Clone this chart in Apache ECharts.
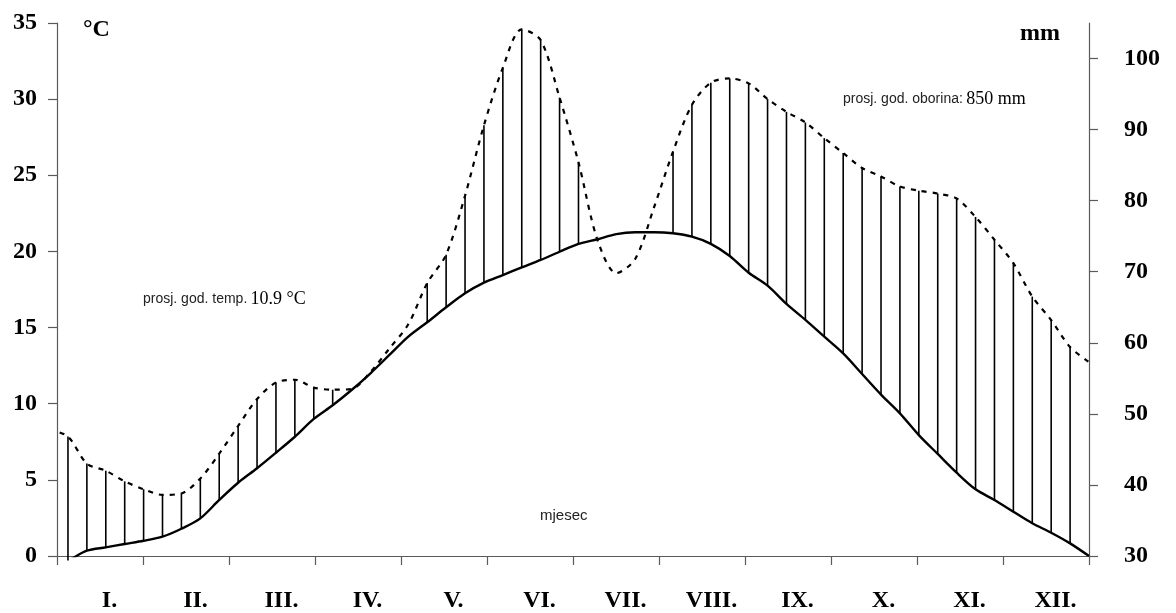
<!DOCTYPE html>
<html><head><meta charset="utf-8">
<script src="https://cdn.jsdelivr.net/npm/echarts@6/dist/echarts.min.js"></script>
<style>html,body{margin:0;padding:0;background:#fff}#c{width:1176px;height:613px}</style>
</head><body><div id="c"></div>
<script>
// ---- data ----
const monthLabels = ['I.','II.','III.','IV.','V.','VI.','VII.','VIII.','IX.','X.','XI.','XII.'];
const tempTicks = [0,5,10,15,20,25,30,35];
const precipTicks = [30,40,50,60,70,80,90,100];
const firstSample = -1; // sample index of first value
// mean temperature (°C) at regular samples through the year
const temperature = [-0.7,-0.3,0.35,0.57,0.79,1.0,1.27,1.79,2.47,3.68,4.81,5.76,6.78,7.83,9.0,9.9,10.9,12.0,13.2,14.4,
  15.35,16.33,17.25,17.95,18.45,18.95,19.44,19.98,20.49,20.8,21.14,21.26,21.26,21.19,20.97,20.5,19.7,18.6,17.75,16.55,
  15.5,14.4,13.3,11.95,10.6,9.37,7.94,6.7,5.47,4.38,3.68,2.91,2.15,1.53,0.83,0];
// precipitation (mm) at the same samples
const precipitation = [47.8,46.8,43.0,42.0,40.5,39.4,38.6,38.8,40.9,44.4,48.3,52.1,54.4,54.8,53.7,53.4,53.5,55.9,59.2,62.6,
  68.4,72.4,80.7,90.6,98.7,104.1,102.6,94.5,85.4,74.5,69.8,71.8,79.1,86.9,93.5,96.6,97.2,96.5,94.3,92.5,
  91.0,88.8,86.7,84.6,83.4,82.0,81.4,81.0,80.3,77.7,74.5,71.2,66.5,63.2,59.4,57.3];
const meanTemp = '10.9 °C';
const meanPrecip = '850 mm';

// ---- axis ranges ----
const X_MIN = -0.58, X_MAX = 54;
const T_MIN = 0, T_MAX = 35, P_MIN = 30, P_MAX = 105;
const tempToMm = t => P_MIN + (t - T_MIN) * (P_MAX - P_MIN) / (T_MAX - T_MIN);

const tempData = temperature.map((v, i) => [i + firstSample, v]);
const precipData = precipitation.map((v, i) => [i + firstSample, v]);
const MIN_GAP = 1.1; // mm
const wet = precipitation.map((p, i) => p - tempToMm(temperature[i]) > MIN_GAP);
const hatchData = [];
precipitation.forEach((p, i) => {
  const k = i + firstSample;
  if (k >= 0 && k < X_MAX && wet[i] && i > 0 && wet[i - 1]) hatchData.push([k, p, tempToMm(temperature[i])]);
});
const monthBounds = monthLabels.map((_, m) => X_MIN + m * (X_MAX - X_MIN) / 12).concat([X_MAX]);

const SERIF = '"Liberation Serif","Times New Roman",serif';
const SANS = '"Liberation Sans",Arial,sans-serif';
const axisCol = '#5a5a5a';
const boldLbl = {fontFamily: SERIF, fontWeight: 'bold', fontSize: 24, color: '#000'};

const chart = echarts.init(document.getElementById('c'), null, {renderer: 'canvas'});
chart.setOption({
  animation: false,
  backgroundColor: '#fff',
  grid: {left: 57, right: 87, top: 23, bottom: 57, containLabel: false, outerBoundsMode: 'none'},
  xAxis: [
    {type: 'value', position: 'bottom', min: X_MIN, max: X_MAX,
     axisLine: {show: true, onZero: false, lineStyle: {color: axisCol, width: 1.2}},
     axisTick: {show: true, customValues: monthBounds, length: 9, lineStyle: {color: axisCol, width: 1.2}},
     axisLabel: {show: false}, splitLine: {show: false}},
    {type: 'category', position: 'bottom', data: monthLabels, boundaryGap: true,
     axisLine: {show: false, onZero: false}, axisTick: {show: false}, splitLine: {show: false},
     axisLabel: Object.assign({interval: 0, margin: 33, padding: [0, 0, 0, 19]}, boldLbl)}
  ],
  yAxis: [
    {type: 'value', position: 'left', min: T_MIN, max: T_MAX, interval: 5,
     axisLine: {show: true, onZero: false, lineStyle: {color: axisCol, width: 1.2}},
     axisTick: {show: true, length: 9, lineStyle: {color: axisCol, width: 1.2}},
     axisLabel: Object.assign({margin: 20}, boldLbl), splitLine: {show: false}},
    {type: 'value', position: 'right', min: P_MIN, max: P_MAX,
     axisLine: {show: true, onZero: false, lineStyle: {color: axisCol, width: 1.2}},
     axisTick: {show: true, length: 9, customValues: precipTicks, lineStyle: {color: axisCol, width: 1.2}},
     axisLabel: Object.assign({margin: 35, customValues: precipTicks}, boldLbl), splitLine: {show: false}}
  ],
  series: [
    {type: 'custom', xAxisIndex: 0, yAxisIndex: 1, data: hatchData, z: 2,
     renderItem: (params, api) => {
       const a = api.coord([api.value(0), api.value(1)]);
       const b = api.coord([api.value(0), api.value(2)]);
       return {type: 'line', shape: {x1: a[0], y1: a[1], x2: b[0], y2: b[1]},
               style: {stroke: '#000', lineWidth: 1.6}};
     }},
    {type: 'line', name: 'temp', xAxisIndex: 0, yAxisIndex: 0, data: tempData, smooth: 0.3,
     symbol: 'none', clip: true, z: 3, lineStyle: {color: '#000', width: 2.4}},
    {type: 'line', name: 'precip', xAxisIndex: 0, yAxisIndex: 1, data: precipData, smooth: 0.3,
     symbol: 'none', clip: true, z: 3, lineStyle: {color: '#000', width: 2.2, type: [5, 6]}}
  ],
  graphic: [
    {type: 'text', left: 83, top: 18, style: {text: '°C', font: 'bold 24px ' + SERIF, fill: '#000'}},
    {type: 'text', right: 116, top: 22, style: {text: 'mm', font: 'bold 24px ' + SERIF, fill: '#000'}},
    {type: 'text', left: 143, top: 290, style: {
      text: '{a|prosj. god. temp.} {b|' + meanTemp + '}',
      rich: {a: {fontFamily: SANS, fontSize: 14, fill: '#222'}, b: {fontFamily: SERIF, fontSize: 18, fill: '#000'}}}},
    {type: 'text', left: 843, top: 90, style: {
      text: '{a|prosj. god. oborina:} {b|' + meanPrecip + '}',
      rich: {a: {fontFamily: SANS, fontSize: 14, fill: '#222'}, b: {fontFamily: SERIF, fontSize: 18, fill: '#000'}}}},
    {type: 'text', left: 540, top: 508, style: {text: 'mjesec', font: '15px ' + SANS, fill: '#222'}}
  ]
});
</script></body></html>
